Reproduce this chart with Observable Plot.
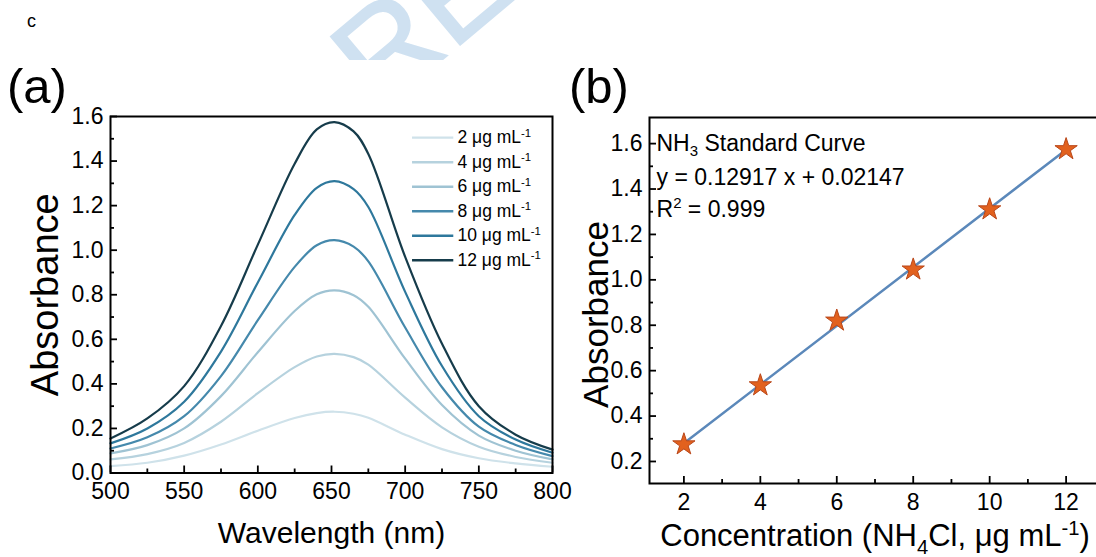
<!DOCTYPE html>
<html><head><meta charset="utf-8">
<script src="https://cdn.jsdelivr.net/npm/d3@7"></script>
<script src="https://cdn.jsdelivr.net/npm/@observablehq/plot@0.6"></script>
<style>
html,body{margin:0;padding:0;background:#fff;overflow:hidden;}
#root{position:relative;width:1096px;height:557px;overflow:hidden;font-family:"Liberation Sans",Arial,sans-serif;color:#000;}
.abs{position:absolute;line-height:1;white-space:nowrap;}
</style></head><body>
<div id="root">
  <svg class="abs" style="left:0;top:0" width="1096" height="60">
    <text transform="translate(380,112) rotate(-40)" font-size="130" font-family="Liberation Sans, Arial, sans-serif" fill="#cfe1f1" stroke="#cfe1f1" stroke-width="1.5">REVIEW</text>
  </svg>
  <div class="abs" style="left:27px;top:12px;font-size:18px">c</div>
  <div id="pa" class="abs" style="left:0;top:0"></div>
  <div id="pb" class="abs" style="left:570px;top:0"></div>
  <div class="abs" style="left:7px;top:62px;font-size:49px">(a)</div>
  <div class="abs" style="left:569px;top:62px;font-size:49px">(b)</div>
</div>
<script>
const FONT = '"Liberation Sans", Arial, sans-serif';

// ---- Panel (a): UV-vis spectra ----
const wavelengths = [500, 525, 550, 575, 600, 625, 640, 652, 665, 675, 700, 725, 750, 775, 800];
const abs2  = [0.031, 0.046, 0.078, 0.128, 0.190, 0.247, 0.269, 0.275, 0.266, 0.248, 0.172, 0.107, 0.066, 0.043, 0.028];
const abs4  = [0.061, 0.085, 0.135, 0.230, 0.358, 0.475, 0.523, 0.535, 0.520, 0.486, 0.338, 0.205, 0.118, 0.072, 0.046];
const abs6  = [0.088, 0.125, 0.200, 0.345, 0.542, 0.727, 0.802, 0.820, 0.798, 0.746, 0.513, 0.305, 0.168, 0.100, 0.061];
const abs8  = [0.110, 0.160, 0.255, 0.435, 0.686, 0.925, 1.022, 1.045, 1.016, 0.950, 0.653, 0.385, 0.208, 0.126, 0.076];
const abs10 = [0.133, 0.200, 0.320, 0.545, 0.855, 1.158, 1.280, 1.310, 1.274, 1.194, 0.813, 0.480, 0.255, 0.150, 0.091];
const abs12 = [0.155, 0.245, 0.390, 0.660, 1.025, 1.388, 1.542, 1.575, 1.533, 1.432, 0.970, 0.580, 0.300, 0.172, 0.105];
const concentrations = [2, 4, 6, 8, 10, 12];
const seriesLabels = ["2 μg mL^{-1}", "4 μg mL^{-1}", "6 μg mL^{-1}", "8 μg mL^{-1}", "10 μg mL^{-1}", "12 μg mL^{-1}"];
const seriesColors = ["#cfe2ea", "#b6d2de", "#9fc3d3", "#4589ac", "#2e789c", "#163c4b"];
const xTicksA = [500, 550, 600, 650, 700, 750, 800];
const xMinorA = [525, 575, 625, 675, 725, 775];
const yTicksA = [0, 0.2, 0.4, 0.6, 0.8, 1.0, 1.2, 1.4, 1.6];
const yMinorA = [0.1, 0.3, 0.5, 0.7, 0.9, 1.1, 1.3, 1.5];

// ---- Panel (b): standard curve ----
const stdConc = [2, 4, 6, 8, 10, 12];
const stdAbs  = [0.275, 0.535, 0.820, 1.045, 1.310, 1.575];
const xTicksB = [2, 4, 6, 8, 10, 12];
const xMinorB = [3, 5, 7, 9, 11];
const yTicksB = [0.2, 0.4, 0.6, 0.8, 1.0, 1.2, 1.4, 1.6];
const yMinorB = [0.3, 0.5, 0.7, 0.9, 1.1, 1.3, 1.5];
const annotB = ["NH_{3} Standard Curve", "y = 0.12917 x + 0.02147", "R^{2} = 0.999"];

const seriesValues = [abs2, abs4, abs6, abs8, abs10, abs12];
const spectra = [];
concentrations.forEach((c, s) => wavelengths.forEach((w, i) => spectra.push({w, a: seriesValues[s][i], c})));
const legendRows = concentrations.map((c, i) => ({c, label: seriesLabels[i], i}));
const stdPoints = stdConc.map((c, i) => ({c, a: stdAbs[i]}));

const styleBase = {fontFamily: FONT, color: "#000", maxWidth: "none", overflow: "visible", background: "transparent"};

function axesMarks(xT, xM, yT, yM, yFmt) {
  return [
    Plot.axisX({ticks: xT, tickSize: 7, dy: -7, stroke: "#000", strokeWidth: 1.8, fill: "none", label: null}),
    Plot.axisX({ticks: xM, tickSize: 4, dy: -4, stroke: "#000", strokeWidth: 1.8, fill: "none", label: null}),
    Plot.axisX({ticks: xT, tickSize: 0, tickPadding: 10, fontSize: 23, fontFamily: FONT, fill: "#000", label: null}),
    Plot.axisY({ticks: yT, tickSize: 7, dx: 7, stroke: "#000", strokeWidth: 1.8, fill: "none", label: null}),
    Plot.axisY({ticks: yM, tickSize: 4, dx: 4, stroke: "#000", strokeWidth: 1.8, fill: "none", label: null}),
    Plot.axisY({ticks: yT, tickSize: 0, tickPadding: 7, fontSize: 23, fontFamily: FONT, fill: "#000", tickFormat: yFmt, label: null}),
    Plot.frame({stroke: "#000", strokeWidth: 2})
  ];
}

const plotA = Plot.plot({
  width: 570, height: 557,
  marginLeft: 110, marginRight: 18, marginTop: 116, marginBottom: 84.5,
  style: styleBase,
  x: {domain: [500, 800]},
  y: {domain: [0, 1.6]},
  color: {domain: concentrations, range: seriesColors},
  marks: [
    Plot.line(spectra, {x: "w", y: "a", z: "c", stroke: "c", strokeWidth: 2.2, curve: "catmull-rom"}),
    Plot.ruleY(legendRows, {y: d => 1.505 - d.i * 0.110, x1: 705, x2: 733, stroke: "c", strokeWidth: 2.4}),
    Plot.text(legendRows, {x: 735.5, y: d => 1.505 - d.i * 0.110, text: "label", textAnchor: "start", lineAnchor: "middle", fontSize: 17.5, fontFamily: FONT, fill: "#000"}),
    ...axesMarks(xTicksA, xMinorA, yTicksA, yMinorA, d3.format(".1f")),
    Plot.text(["Wavelength (nm)"], {frameAnchor: "bottom", dy: 60, lineAnchor: "middle", textAnchor: "middle", fontSize: 30, fontFamily: FONT, fill: "#000"}),
    Plot.text(["Absorbance"], {frameAnchor: "left", dx: -65, rotate: -90, lineAnchor: "middle", textAnchor: "middle", fontSize: 38, fontFamily: FONT, fill: "#000"})
  ]
});

const plotB = Plot.plot({
  width: 530, height: 557,
  marginLeft: 79, marginRight: 0, marginTop: 117, marginBottom: 74,
  style: styleBase,
  x: {domain: [1.1, 12.9]},
  y: {domain: [0.103, 1.715]},
  marks: [
    Plot.linearRegressionY(stdPoints, {x: "c", y: "a", stroke: "#5b88ba", strokeWidth: 2.5, ci: 0}),
    Plot.dot(stdPoints, {x: "c", y: "a", symbol: "star", r: 7, fill: "#e2611e", stroke: "#b9471a", strokeWidth: 1}),
    ...axesMarks(xTicksB, xMinorB, yTicksB, yMinorB, d3.format(".1f")),
    Plot.text([annotB[0]], {frameAnchor: "top-left", dx: 7, dy: 26, lineAnchor: "middle", textAnchor: "start", fontSize: 23, fontFamily: FONT, fill: "#000"}),
    Plot.text([annotB[1]], {frameAnchor: "top-left", dx: 7, dy: 60, lineAnchor: "middle", textAnchor: "start", fontSize: 23, fontFamily: FONT, fill: "#000"}),
    Plot.text([annotB[2]], {frameAnchor: "top-left", dx: 7, dy: 92, lineAnchor: "middle", textAnchor: "start", fontSize: 23, fontFamily: FONT, fill: "#000"}),
    Plot.text(["Concentration (NH_{4}Cl, μg mL^{-1})"], {frameAnchor: "bottom", dy: 53, lineAnchor: "middle", textAnchor: "middle", fontSize: 31, fontFamily: FONT, fill: "#000"}),
    Plot.text(["Absorbance"], {frameAnchor: "left", dx: -53, dy: 14, rotate: -90, lineAnchor: "middle", textAnchor: "middle", fontSize: 35, fontFamily: FONT, fill: "#000"})
  ]
});

function richify(svg) {
  svg.querySelectorAll("text").forEach(t => {
    const s = t.textContent;
    if (!/[\^_]\{/.test(s) || t.querySelector("tspan")) return;
    const fs = parseFloat(getComputedStyle(t).fontSize) || 16;
    const parts = [];
    const re = /([\^_])\{([^}]*)\}/g;
    let last = 0, m;
    while ((m = re.exec(s))) {
      if (m.index > last) parts.push({kind: "n", str: s.slice(last, m.index)});
      parts.push({kind: m[1] === "^" ? "sup" : "sub", str: m[2]});
      last = re.lastIndex;
    }
    if (last < s.length) parts.push({kind: "n", str: s.slice(last)});
    t.textContent = "";
    let shift = 0;
    const NS = "http://www.w3.org/2000/svg";
    parts.forEach(p => {
      const ts = document.createElementNS(NS, "tspan");
      const target = p.kind === "sup" ? -0.38 * fs : p.kind === "sub" ? 0.24 * fs : 0;
      const dy = target - shift;
      if (dy !== 0) ts.setAttribute("dy", dy.toFixed(2));
      shift = target;
      if (p.kind !== "n") ts.setAttribute("font-size", (0.65 * fs).toFixed(1));
      ts.textContent = p.str;
      t.appendChild(ts);
    });
  });
}

document.getElementById("pa").appendChild(plotA);
document.getElementById("pb").appendChild(plotB);
richify(plotA);
richify(plotB);
</script>
</body></html>
